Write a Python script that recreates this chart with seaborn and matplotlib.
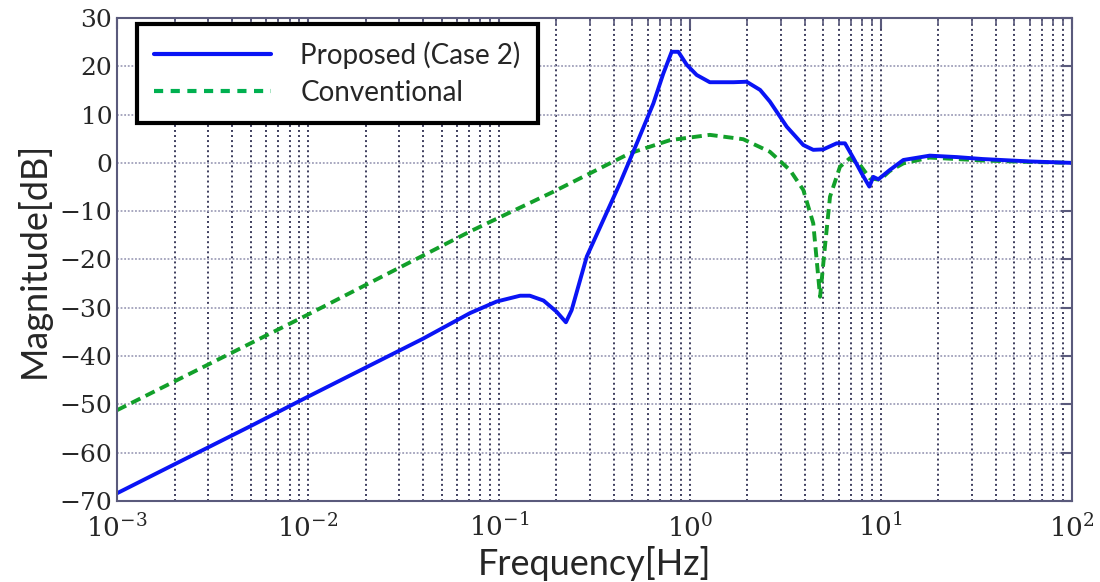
import pandas as pd
import seaborn as sns
import matplotlib.pyplot as plt
from matplotlib.lines import Line2D
from matplotlib.ticker import LogLocator, FixedLocator, NullFormatter

# values
freq_proposed = [0.001, 0.002, 0.005, 0.01, 0.02, 0.04, 0.0705, 0.0973, 0.129, 0.145,
                 0.171, 0.200, 0.224, 0.240, 0.288, 0.352, 0.430, 0.526, 0.643, 0.725,
                 0.802, 0.869, 0.962, 1.084, 1.27, 1.69, 1.98, 2.33, 2.62, 3.21, 3.92,
                 4.42, 4.99, 5.86, 6.48, 7.17, 7.93, 8.69, 9.12, 9.69, 11.1, 13.1, 18.0,
                 25.0, 34.0, 60.0, 100.0]
mag_proposed = [-68.4, -62.4, -54.5, -48.4, -42.4, -36.4, -31.1, -28.7, -27.5, -27.5,
                -28.5, -30.8, -33.0, -30.5, -19.4, -11.8, -4.2, 4.0, 12.3, 18.5,
                23.0, 23.0, 20.3, 18.2, 16.7, 16.7, 16.8, 15.1, 12.7, 7.5, 3.7,
                2.7, 2.8, 4.05, 4.05, 1.0, -2.2, -4.9, -2.9, -3.4, -1.5, 0.6, 1.5,
                1.2, 0.8, 0.3, 0.0]

freq_conv = [0.001, 0.01, 0.0705, 0.192, 0.485, 0.785, 1.27, 1.90, 2.62, 3.34, 3.92,
             4.42, 4.80, 5.09, 5.41, 6.10, 6.89, 7.76, 8.75, 9.88, 11.1, 13.1, 18.0,
             34.0, 60.0, 100.0]
mag_conv = [-51.2, -31.4, -14.2, -6.0, 2.0, 4.7, 5.8, 4.9, 2.3, -1.5, -5.6,
            -12.5, -27.7, -17.3, -7.0, -0.8, 1.0, -0.4, -3.2, -3.5, -1.7, -0.1, 1.1,
            0.5, 0.2, 0.0]

y_ticks = list(range(-70, 31, 10))
x_ticks = [1e-3, 1e-2, 1e-1, 1e0, 1e1, 1e2]
labels = ["Proposed (Case 2)", "Conventional"]

blue = "#0a14f5"
green = "#12a02a"
label_font = "Lato"

sns.set_style("white")
plt.rcParams["font.family"] = ["DejaVu Serif"]
plt.rcParams["mathtext.fontset"] = "dejavuserif"

fig = plt.figure(figsize=(11, 5.82), dpi=100)
ax = fig.add_axes([0.1064, 0.1392, 0.8681, 0.8299])

df_prop = pd.DataFrame({"Frequency": freq_proposed, "Magnitude": mag_proposed})
df_conv = pd.DataFrame({"Frequency": freq_conv, "Magnitude": mag_conv})

sns.lineplot(data=df_conv, x="Frequency", y="Magnitude", ax=ax, color=green,
             linewidth=2.8, linestyle=(0, (2.6, 1.5)), sort=False, estimator=None)
sns.lineplot(data=df_prop, x="Frequency", y="Magnitude", ax=ax, color=blue,
             linewidth=2.8, sort=False, estimator=None)

ax.set_xscale("log")
ax.set_xlim(1e-3, 1e2)
ax.set_ylim(-70, 30)
ax.yaxis.set_major_locator(FixedLocator(y_ticks))
ax.xaxis.set_major_locator(FixedLocator(x_ticks))
ax.xaxis.set_minor_locator(LogLocator(base=10, subs=range(2, 10), numticks=20))
ax.xaxis.set_minor_formatter(NullFormatter())

# grid: dotted dark verticals, light horizontals
ax.set_axisbelow(True)
ax.grid(which="both", axis="x", linestyle=(0, (1, 1.6)), color="#3c3c5c", linewidth=1.4)
ax.grid(which="major", axis="y", linestyle=(0, (1, 1)), color="#a0a0ba", linewidth=1.3)

for s in ax.spines.values():
    s.set_color("#5a5a7c")
    s.set_linewidth(1.5)
ax.tick_params(which="major", direction="in", length=8, width=1.5, color="#5a5a7c",
               top=True, right=True, labelsize=18)
ax.tick_params(axis="x", which="major", labelsize=19, pad=9)
ax.tick_params(which="minor", direction="in", length=5, width=1.2, color="#5a5a7c",
               top=True, right=True)

ax.set_xlabel("Frequency[Hz]", fontfamily=label_font, fontsize=26, labelpad=3)
ax.set_ylabel("Magnitude[dB]", fontfamily=label_font, fontsize=26, labelpad=6)

handles = [Line2D([], [], color=blue, linewidth=3),
           Line2D([], [], color="#00b050", linewidth=3, linestyle=(0, (2.2, 1.8)))]
leg = ax.legend(handles, labels, loc="upper left", bbox_to_anchor=(0.021, 0.988),
                borderaxespad=0, fancybox=False, framealpha=1, edgecolor="black",
                prop={"family": label_font, "size": 20}, handlelength=4.2,
                handletextpad=1.05, labelspacing=0.4, borderpad=0.62)
leg.get_frame().set_linewidth(3)

plt.savefig("out.png", dpi=100)
